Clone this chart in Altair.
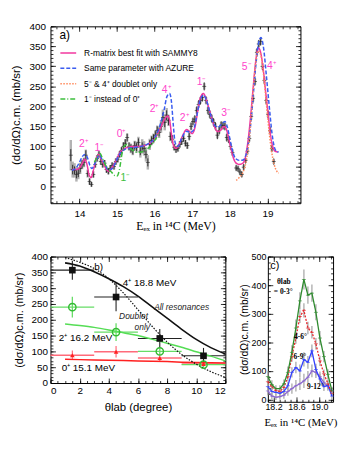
import altair as alt
import pandas as pd

SANS = "Liberation Sans"
SERIF = "Liberation Serif"

# ---------------- Panel a : excitation function ----------------
a_E = [13.77, 13.82, 13.87, 13.92, 13.97, 14.02, 14.07, 14.12, 14.17, 14.22, 14.27, 14.32, 14.37, 14.42,
       14.47, 14.52, 14.57, 14.62, 14.67, 14.72, 14.77, 14.82, 14.87, 14.92, 14.97, 15.02, 15.07, 15.12,
       15.17, 15.22, 15.27, 15.32, 15.37, 15.42, 15.47, 15.52, 15.57, 15.62, 15.67, 15.72, 15.77, 15.82,
       15.87, 15.92, 15.97, 16.02, 16.07, 16.12, 16.17, 16.22, 16.27, 16.32, 16.37, 16.42, 16.47, 16.52,
       16.57, 16.62, 16.67, 16.72, 16.77, 16.82, 16.87, 16.92, 16.97, 17.02, 17.07, 17.12, 17.17, 17.22,
       17.27, 17.32, 17.37, 17.42, 17.47, 17.52, 17.57, 17.62, 17.67, 17.72, 17.77, 17.82, 17.87, 17.92,
       17.97, 18.02, 18.07, 18.17, 18.22, 18.27, 18.32, 18.37, 18.42, 18.47, 18.52, 18.57, 18.62, 18.67,
       18.72, 18.77, 18.82, 18.87, 18.92, 18.97, 19.02, 19.07, 19.12, 19.17]
a_v = [78, 42, 40, 30, 33, 45, 55, 60, 78, 32, 12, 5, 30, 55,
       70, 80, 62, 55, 58, 42, 38, 45, 52, 50, 62, 68, 80, 90,
       100, 108, 122, 100, 95, 90, 102, 98, 110, 88, 100, 95, 80, 60,
       105, 115, 120, 128, 140, 135, 150, 172, 160, 178, 165, 125, 118, 98,
       92, 95, 105, 112, 120, 108, 102, 125, 150, 162, 168, 190, 205, 215,
       222, 250, 215, 190, 180, 170, 160, 150, 128, 140, 153, 152, 150, 122,
       118, 100, 85, 46, 44, 36, 30, 48, 65, 88, 120, 175, 220, 262,
       335, 356, 362, 300, 265, 215, 180, 140, 95, 62]
a_err = [15, 12, 10, 10, 10, 10, 10, 10, 12, 8, 8, 6, 8, 8,
         8, 8, 8, 8, 8, 8, 8, 8, 8, 8, 8, 8, 8, 8,
         10, 10, 10, 10, 10, 10, 10, 10, 10, 10, 10, 10, 10, 10,
         10, 10, 10, 10, 10, 10, 10, 12, 12, 12, 12, 10, 10, 8,
         8, 8, 8, 8, 8, 8, 8, 10, 10, 10, 10, 10, 10, 10,
         10, 10, 10, 10, 10, 10, 10, 10, 10, 10, 10, 10, 10, 10,
         10, 8, 8, 8, 8, 8, 8, 8, 8, 8, 10, 10, 10, 10,
         10, 10, 10, 10, 10, 10, 10, 10, 8, 8]
a_sys = [38, 20, 18, 18, 15, 14, 12, 12, 14, 10, 8, 6, 8, 8,
         8, 8, 8, 8, 8, 8, 8, 8, 8, 8, 8, 8, 8, 8,
         10, 10, 10, 10, 12, 12, 12, 14, 14, 16, 18, 18, 18, 18,
         14, 12, 12, 12, 12, 14, 16, 20, 20, 18, 14, 12, 10, 8,
         8, 8, 8, 8, 8, 8, 8, 8, 8, 8, 8, 8, 8, 8,
         8, 8, 8, 8, 8, 8, 8, 8, 8, 8, 8, 8, 8, 8,
         8, 8, 8, 6, 6, 6, 6, 6, 6, 8, 8, 8, 8, 8,
         8, 8, 8, 8, 8, 8, 8, 8, 8, 6]

sammy_E = [13.80, 13.90, 14.00, 14.08, 14.14, 14.20, 14.26, 14.31, 14.37, 14.44, 14.52, 14.58, 14.65,
           14.72, 14.78, 14.85, 14.92, 15.00, 15.08, 15.18, 15.30, 15.45, 15.60, 15.75, 15.90, 16.00,
           16.10, 16.20, 16.28, 16.35, 16.40, 16.45, 16.50, 16.57, 16.65, 16.75, 16.85, 16.92, 17.00,
           17.08, 17.15, 17.22, 17.30, 17.38, 17.45, 17.52, 17.60, 17.68, 17.75, 17.85, 17.90, 17.97,
           18.03, 18.10, 18.17, 18.25, 18.35, 18.42, 18.48, 18.55, 18.62, 18.70, 18.76, 18.82, 18.88,
           18.95, 19.02, 19.08, 19.14, 19.20, 19.28]
sammy_v = [42, 42, 46, 58, 68, 55, 28, 22, 40, 68, 80, 68, 55,
           42, 38, 45, 55, 70, 85, 93, 98, 100, 100, 103, 110, 118,
           135, 155, 170, 176, 165, 130, 103, 95, 105, 128, 142, 138, 132,
           150, 190, 222, 232, 215, 193, 170, 148, 137, 140, 150, 145, 120,
           95, 70, 58, 55, 58, 75, 110, 170, 245, 320, 346, 335, 300,
           240, 180, 130, 100, 88, 86]

azure_E = [13.80, 13.90, 14.00, 14.08, 14.15, 14.22, 14.28, 14.33, 14.40, 14.47, 14.53, 14.60, 14.68,
           14.76, 14.83, 14.92, 15.00, 15.10, 15.20, 15.35, 15.50, 15.65, 15.80, 15.95, 16.05, 16.15,
           16.25, 16.33, 16.40, 16.45, 16.50, 16.55, 16.62, 16.72, 16.85, 16.95, 17.03, 17.12, 17.20,
           17.30, 17.38, 17.48, 17.58, 17.68, 17.78, 17.87, 17.93, 18.00, 18.07, 18.15, 18.25, 18.35,
           18.45, 18.52, 18.60, 18.68, 18.76, 18.83, 18.90, 18.97, 19.05, 19.12, 19.18, 19.24, 19.30]
azure_v = [40, 45, 60, 75, 80, 70, 52, 45, 55, 70, 78, 68, 55,
           42, 42, 52, 68, 85, 92, 96, 98, 100, 105, 115, 130, 155,
           190, 225, 232, 210, 150, 108, 100, 120, 138, 135, 140, 175, 212,
           228, 215, 182, 155, 148, 155, 162, 150, 120, 90, 70, 65, 66,
           85, 125, 200, 290, 355, 372, 345, 280, 200, 135, 100, 88, 86]

doublet_E = [18.17, 18.25, 18.35, 18.45, 18.52, 18.60, 18.68, 18.75, 18.82, 18.88, 18.95, 19.02,
             19.10, 19.18, 19.25, 19.30]
doublet_v = [15, 22, 35, 70, 120, 210, 300, 338, 330, 295, 230, 160, 95, 55, 38, 33]

alt1_E = [14.40, 14.48, 14.55, 14.62, 14.70, 14.78, 14.86, 14.94, 15.00, 15.06, 15.13, 15.20, 15.27,
          15.35, 15.45, 15.55, 15.65, 15.75, 15.85, 15.95, 16.05, 16.12]
alt1_v = [60, 75, 82, 68, 52, 42, 35, 27, 26, 40, 80, 102, 105, 95, 88, 85, 86, 90, 97, 108, 122, 135]

a_names = ["R-matrix best fit with SAMMY8", "Same parameter with AZURE",
           "5⁻ & 4⁺ doublet only", "1⁻ instead of 0⁺"]
a_colors = ["#f2389f", "#3a5cf0", "#ff8a5c", "#3cbf3c"]
a_dashes = [[1, 0], [4, 2], [1.5, 1.5], [5, 2, 1, 2]]

lab_a_text = ["2⁺", "1⁻", "0⁺", "2⁺", "4⁺", "2⁺", "1⁻", "3⁻", "5⁻", "4⁺"]
lab_a_E = [14.12, 14.53, 15.12, 16.00, 16.32, 16.80, 17.25, 17.90, 18.45, 19.12]
lab_a_v = [106, 96, 130, 193, 242, 171, 261, 183, 298, 302]
lab_a_green_text = ["1⁻"]
lab_a_green_E = [15.22]
lab_a_green_v = [22]

# ---------------- Panel b : angular distributions ----------------
b_theta = [1.5, 4.5, 7.5, 10.5]
b_lo = [0, 3, 6, 9]
b_hi = [3, 6, 9, 12]
b_sq = [357, 272, 141, 86]
b_sq_err = [30, 45, 30, 25]
b_circ = [240, 161, 100, 58]
b_circ_err = [33, 28, 10, 10]
b_tri = [88, 99, 79, 60]
b_tri_err = [15, 18, 12, 12]

bc_theta = [1, 2, 3, 4, 5, 6, 7, 8, 9, 10, 11, 12]
b_all = [380, 370, 352, 330, 305, 275, 240, 205, 170, 138, 112, 92]
b_dbl = [397, 382, 362, 330, 285, 232, 178, 130, 90, 60, 36, 18]
b_green = [187, 182, 176, 168, 159, 150, 138, 126, 113, 99, 85, 70]
b_red = [75, 74, 73, 72, 71, 70, 69, 68, 66, 65, 64, 63]

b_txt = ["b)", "4⁺ 18.8 MeV", "2⁺ 16.2 MeV", "0⁺ 15.1 MeV"]
b_txt_x = [3.3, 6.8, 2.4, 2.6]
b_txt_y = [368, 316, 142, 47]
b_itxt = ["All resonances", "Doublet", "only"]
b_itxt_x = [9.0, 5.7, 6.3]
b_itxt_y = [240, 211, 178]

# ---------------- Panel c : excitation functions per angle ----------------
c_E = [18.10, 18.17, 18.24, 18.31, 18.38, 18.45, 18.52, 18.59, 18.66, 18.73, 18.80, 18.87,
       18.94, 19.01, 19.08, 19.15, 19.22]
c_03 = [80, 52, 38, 38, 55, 95, 165, 250, 345, 420, 365, 372, 305, 215, 150, 88, 30]
c_46 = [62, 45, 32, 28, 42, 80, 150, 215, 290, 312, 250, 235, 195, 135, 90, 55, 22]
c_69 = [45, 28, 25, 22, 28, 48, 95, 112, 100, 140, 130, 170, 105, 72, 45, 50, 12]
c_912 = [30, 12, 8, 10, 15, 28, 38, 48, 55, 65, 78, 100, 95, 80, 60, 45, 30]
c_err03 = [20, 15, 12, 12, 15, 20, 25, 30, 30, 35, 30, 30, 28, 25, 20, 18, 15]
c_err_other = [15, 12, 10, 10, 12, 15, 18, 20, 22, 25, 22, 22, 20, 18, 15, 14, 12]
c_colors = ["#2e8b2e", "#e8242a", "#3340ff", "#8a66d0"]
c_dashes = [[1, 0], [2, 1.5], [1, 0], [1, 0]]

c_txt = ["c)"]
c_txt_x = [18.22]
c_txt_y = [468]
c_stxt = ["θlab", "= 0-3°", "4-6°", "6-9°", "9-12°"]
c_stxt_x = [18.38, 18.37, 18.67, 18.66, 18.93]
c_stxt_y = [410, 375, 218, 150, 42]


def ticks_between(lo, hi, step):
    n = int(round((hi - lo) / step))
    return [round(lo + i * step, 4) for i in range(n + 1)]


def frame_layers(df, xf, yf, xdom, ydom, xmaj, xmin_, ymaj, ymin_, xtitle, ytitle,
                 labsize, xtsize, ytsize, xlabpad, ylabpad, xtpad, ytpad, xtfont=SANS):
    xs = alt.Scale(domain=xdom, nice=False, zero=False)
    ys = alt.Scale(domain=ydom, nice=False, zero=False)

    def tick_axis(orient, vals, ln):
        return alt.Axis(orient=orient, values=vals, tickSize=ln, offset=-ln, labels=False,
                        domain=False, grid=False, title=None, tickColor="black", tickWidth=0.8)

    specs = [
        (alt.Axis(orient="bottom", values=xmaj, ticks=False, tickSize=0, domain=False, grid=False,
                  labelFontSize=labsize, labelPadding=xlabpad, title=xtitle, titleFontSize=xtsize,
                  titlePadding=xtpad, titleFont=xtfont, titleFontWeight="normal", labelFont=SANS,
                  labelColor="black", titleColor="black"),
         alt.Axis(orient="left", values=ymaj, ticks=False, tickSize=0, domain=False, grid=False,
                  labelFontSize=labsize, labelPadding=ylabpad, title=ytitle, titleFontSize=ytsize,
                  titlePadding=ytpad, titleFont=SANS, titleFontWeight="normal", labelFont=SANS,
                  labelColor="black", titleColor="black")),
        (tick_axis("bottom", xmaj, 5), tick_axis("left", ymaj, 5)),
        (tick_axis("bottom", xmin_, 2.5), tick_axis("left", ymin_, 2.5)),
        (tick_axis("top", xmaj, 5), tick_axis("right", ymaj, 5)),
        (tick_axis("top", xmin_, 2.5), tick_axis("right", ymin_, 2.5)),
    ]
    out = []
    for ax, ay in specs:
        out.append(alt.Chart(df).mark_point(opacity=0).encode(
            x=alt.X(f"{xf}:Q", scale=xs, axis=ax),
            y=alt.Y(f"{yf}:Q", scale=ys, axis=ay)))
    return out, xs, ys


# ====== build panel a ======
dfa = pd.DataFrame({"E": a_E, "v": a_v})
dfa["lo"] = dfa["v"] - pd.Series(a_err)
dfa["hi"] = dfa["v"] + pd.Series(a_err)
dfa["slo"] = dfa["v"] - pd.Series(a_sys)
dfa["shi"] = dfa["v"] + pd.Series(a_sys)

curves = []
for name, E, v in zip(a_names, [sammy_E, azure_E, doublet_E, alt1_E], [sammy_v, azure_v, doublet_v, alt1_v]):
    for e, y in zip(E, v):
        curves.append({"series": name, "E": e, "v": y})
dfc = pd.DataFrame(curves)

XDA = [13.23, 19.88]
YDA = [-42, 400]
axa, xsa, ysa = frame_layers(
    dfa, "E", "v", XDA, YDA, [14, 15, 16, 17, 18, 19], ticks_between(13.4, 19.8, 0.2),
    [0, 50, 100, 150, 200, 250, 300, 350, 400], ticks_between(-40, 400, 10),
    "Eₑₓ in ¹⁴C (MeV)", "(dσ/dΩ)c.m. (mb/sr)", 10, 12, 11.5, 5, 5, 3, 8, xtfont=SERIF)

base_a = alt.Chart(dfa)
a_sysbars = base_a.mark_rule(color="#9a9a9a", strokeWidth=2.5, opacity=0.75).encode(
    x=alt.X("E:Q", scale=xsa, axis=None), y=alt.Y("slo:Q", scale=ysa, axis=None), y2="shi:Q")
a_errbars = base_a.mark_rule(color="#222222", strokeWidth=0.9).encode(
    x=alt.X("E:Q", scale=xsa, axis=None), y=alt.Y("lo:Q", scale=ysa, axis=None), y2="hi:Q")
a_cross = base_a.mark_tick(orient="horizontal", color="#222222", size=4, thickness=0.9).encode(
    x=alt.X("E:Q", scale=xsa, axis=None), y=alt.Y("v:Q", scale=ysa, axis=None))

a_leg = alt.Legend(title="a)", orient="none", legendX=9, legendY=4, titleFontSize=12,
                   titleFontWeight="normal", titleFont=SANS, labelFont=SANS, labelFontSize=8.5,
                   symbolType="stroke", symbolSize=256, symbolStrokeWidth=1.5, rowPadding=1.5,
                   labelOffset=7, titlePadding=2, labelColor="black", titleColor="black")
a_lines = alt.Chart(dfc).mark_line(strokeWidth=1.5, interpolate="monotone").encode(
    x=alt.X("E:Q", scale=xsa, axis=None), y=alt.Y("v:Q", scale=ysa, axis=None),
    color=alt.Color("series:N", scale=alt.Scale(domain=a_names, range=a_colors), legend=a_leg),
    strokeDash=alt.StrokeDash("series:N", scale=alt.Scale(domain=a_names, range=a_dashes), legend=a_leg),
    order=alt.Order("E:Q"))

dfla = pd.DataFrame({"t": lab_a_text, "E": lab_a_E, "v": lab_a_v})
a_labels = alt.Chart(dfla).mark_text(color="#ff44cc", fontSize=10.5, font=SANS).encode(
    x=alt.X("E:Q", scale=xsa, axis=None), y=alt.Y("v:Q", scale=ysa, axis=None), text="t:N")
dflg = pd.DataFrame({"t": lab_a_green_text, "E": lab_a_green_E, "v": lab_a_green_v})
a_glabel = alt.Chart(dflg).mark_text(color="#3cbf3c", fontSize=10.5, font=SANS).encode(
    x=alt.X("E:Q", scale=xsa, axis=None), y=alt.Y("v:Q", scale=ysa, axis=None), text="t:N")

panel_a = alt.layer(a_sysbars, a_errbars, a_cross, a_lines, a_labels, a_glabel, *axa).resolve_axis(
    x="independent", y="independent").properties(width=253, height=179)

# ====== build panel b ======
dfb = pd.DataFrame({"t": b_theta, "lo": b_lo, "hi": b_hi,
                    "sq": b_sq, "sqe": b_sq_err, "ci": b_circ, "cie": b_circ_err,
                    "tr": b_tri, "tre": b_tri_err})
dfb["sq_lo"] = dfb["sq"] - dfb["sqe"]
dfb["sq_hi"] = dfb["sq"] + dfb["sqe"]
dfb["ci_lo"] = dfb["ci"] - dfb["cie"]
dfb["ci_hi"] = dfb["ci"] + dfb["cie"]
dfb["tr_lo"] = dfb["tr"] - dfb["tre"]
dfb["tr_hi"] = dfb["tr"] + dfb["tre"]

dfbc = pd.DataFrame({"t": bc_theta, "all": b_all, "dbl": b_dbl, "g": b_green, "r": b_red})

axb, xsb, ysb = frame_layers(
    dfb, "t", "sq", [0, 12], [0, 400], [0, 2, 4, 6, 8, 10, 12], ticks_between(0, 12, 0.5),
    [0, 50, 100, 150, 200, 250, 300, 350, 400], ticks_between(0, 400, 10),
    "θlab (degree)", "(dσ/dΩ)c.m. (mb/sr)", 10, 11.5, 11, 3, 3, 6, 7)

bb = alt.Chart(dfb)
bx = lambda f: alt.X(f, type="quantitative", scale=xsb, axis=None)
by = lambda f: alt.Y(f, type="quantitative", scale=ysb, axis=None)

b_layers = []
b_layers.append(bb.mark_rule(color="#ff6b7a", strokeWidth=1.6).encode(x=bx("lo"), x2="hi:Q", y=by("tr")))
b_layers.append(bb.mark_rule(color="#ff6b7a", strokeWidth=1.2).encode(x=bx("t"), y=by("tr_lo"), y2="tr_hi:Q"))
b_layers.append(bb.mark_rule(color="#66dd66", strokeWidth=1.3).encode(x=bx("lo"), x2="hi:Q", y=by("ci")))
b_layers.append(bb.mark_rule(color="#66dd66", strokeWidth=1.3).encode(x=bx("t"), y=by("ci_lo"), y2="ci_hi:Q"))
b_layers.append(bb.mark_rule(color="#222222", strokeWidth=1.1).encode(x=bx("lo"), x2="hi:Q", y=by("sq")))
b_layers.append(bb.mark_rule(color="#222222", strokeWidth=1.1).encode(x=bx("t"), y=by("sq_lo"), y2="sq_hi:Q"))

bcc = alt.Chart(dfbc)
b_layers.append(bcc.mark_line(color="#ff2020", strokeWidth=1.5).encode(x=bx("t"), y=by("r")))
b_layers.append(bcc.mark_line(color="#55dd55", strokeWidth=1.5, interpolate="monotone").encode(x=bx("t"), y=by("g")))
b_layers.append(bcc.mark_line(color="#111111", strokeWidth=1.2, strokeDash=[1.5, 1.5], interpolate="monotone").encode(x=bx("t"), y=by("dbl")))
b_layers.append(bcc.mark_line(color="#111111", strokeWidth=1.6, interpolate="monotone").encode(x=bx("t"), y=by("all")))

b_layers.append(bb.mark_point(shape="triangle-up", filled=True, color="#ff2020", size=22, opacity=1).encode(x=bx("t"), y=by("tr")))
b_layers.append(bb.mark_point(shape="circle", filled=False, color="#33bb33", size=55, strokeWidth=1.4, opacity=1).encode(x=bx("t"), y=by("ci")))
b_layers.append(bb.mark_square(color="#111111", size=45, opacity=1).encode(x=bx("t"), y=by("sq")))

dfbt = pd.DataFrame({"s": b_txt, "x": b_txt_x, "y": b_txt_y})
b_layers.append(alt.Chart(dfbt).mark_text(fontSize=10, font=SANS, color="black").encode(x=bx("x"), y=by("y"), text="s:N"))
dfbi = pd.DataFrame({"s": b_itxt, "x": b_itxt_x, "y": b_itxt_y})
b_layers.append(alt.Chart(dfbi).mark_text(fontSize=8.5, font=SANS, fontStyle="italic", color="#222222").encode(x=bx("x"), y=by("y"), text="s:N"))

panel_b = alt.layer(*b_layers, *axb).resolve_axis(x="independent", y="independent").properties(
    width=177, height=128, title=alt.TitleParams(" ", fontSize=6, offset=0))

# ====== build panel c ======
dfcc = pd.DataFrame({"E": c_E, "v03": c_03, "v46": c_46, "v69": c_69, "v912": c_912})
for key, errs in [("v03", c_err03), ("v46", c_err_other), ("v69", c_err_other), ("v912", c_err_other)]:
    dfcc[key + "_lo"] = dfcc[key] - pd.Series(errs)
    dfcc[key + "_hi"] = dfcc[key] + pd.Series(errs)

axc, xsc, ysc = frame_layers(
    dfcc, "E", "v03", [18.1, 19.24], [-8, 500], [18.2, 18.6, 19.0], ticks_between(18.1, 19.2, 0.1),
    [0, 100, 200, 300, 400, 500], ticks_between(0, 500, 20),
    "Eₑₓ in ¹⁴C (MeV)", "(dσ/dΩ)c.m. (mb/sr)", 9, 11, 10.5, 1, 2, 5, 2, xtfont=SERIF)

cx = lambda f: alt.X(f, type="quantitative", scale=xsc, axis=None)
cy = lambda f: alt.Y(f, type="quantitative", scale=ysc, axis=None)
cc = alt.Chart(dfcc)
c_layers = []
for key in ["v912", "v69", "v46", "v03"]:
    c_layers.append(cc.mark_rule(color="#a8a8a8", strokeWidth=1.6, opacity=0.8).encode(
        x=cx("E"), y=cy(key + "_lo"), y2=f"{key}_hi:Q"))
for key, col, dash in zip(["v03", "v46", "v69", "v912"][::-1], c_colors[::-1], c_dashes[::-1]):
    c_layers.append(cc.mark_line(strokeWidth=1.3, color=col, strokeDash=dash).encode(x=cx("E"), y=cy(key)))
    c_layers.append(cc.mark_tick(orient="horizontal", size=4, thickness=0.9, color=col).encode(x=cx("E"), y=cy(key)))

dfct = pd.DataFrame({"s": c_txt, "x": c_txt_x, "y": c_txt_y})
c_layers.append(alt.Chart(dfct).mark_text(fontSize=11, font=SANS, color="black").encode(x=cx("x"), y=cy("y"), text="s:N"))
dfcs = pd.DataFrame({"s": c_stxt, "x": c_stxt_x, "y": c_stxt_y})
c_layers.append(alt.Chart(dfcs).mark_text(fontSize=7.5, font=SERIF, fontWeight="bold", color="black").encode(x=cx("x"), y=cy("y"), text="s:N"))

panel_c = alt.layer(*c_layers, *axc).resolve_axis(x="independent", y="independent").properties(width=66, height=147)

chart = alt.vconcat(
    panel_a,
    alt.hconcat(panel_b, panel_c, spacing=9),
    spacing=12,
).properties(padding={"left": 1, "top": 10, "right": 0, "bottom": 0}
).configure_view(stroke="black", strokeWidth=1
).configure_axis(grid=False)

chart.save("out.html", embed_options={"renderer": "svg", "actions": False})
